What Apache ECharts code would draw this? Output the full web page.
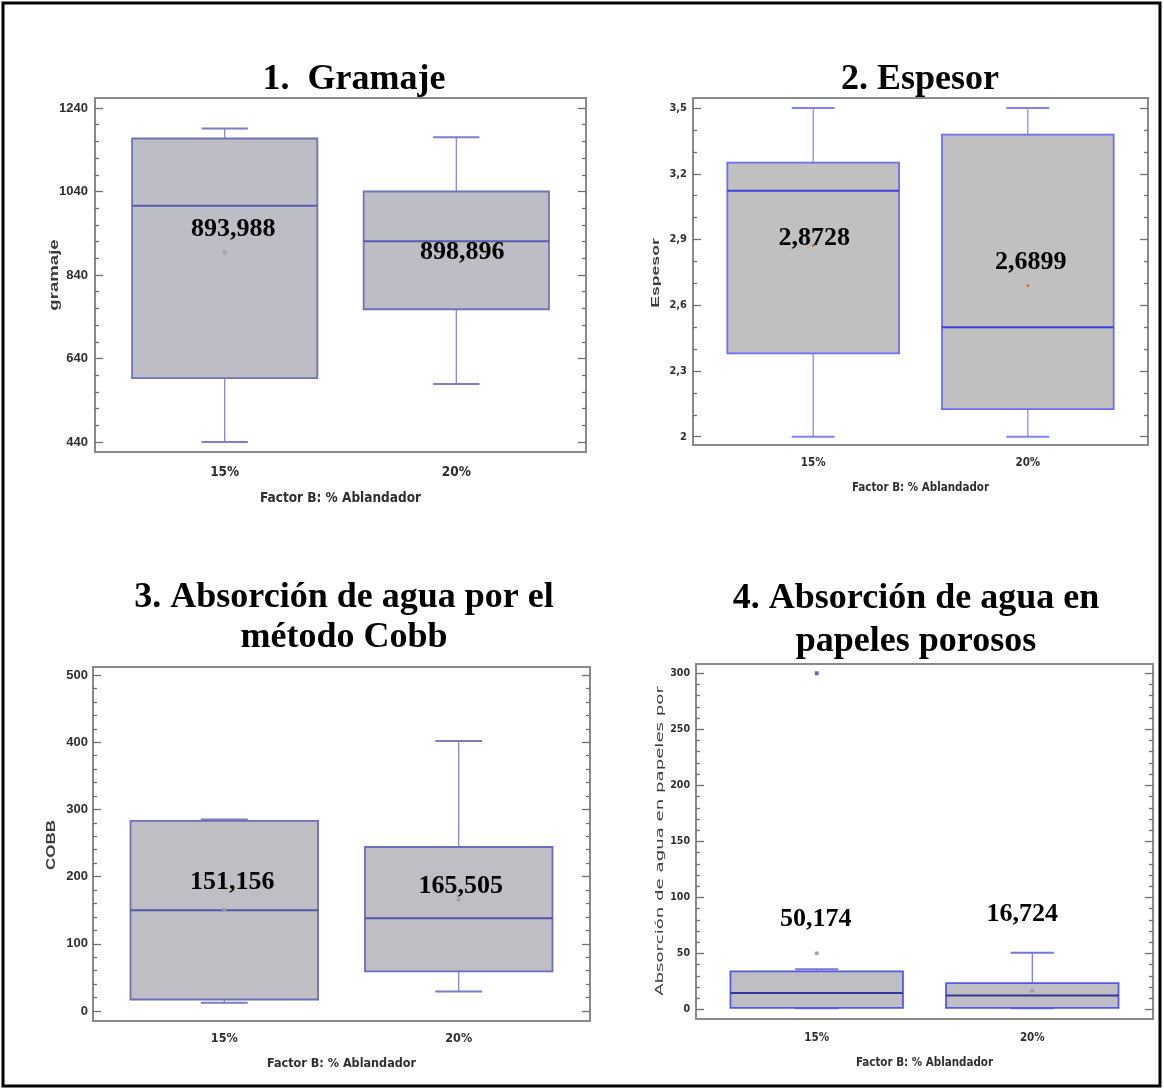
<!DOCTYPE html>
<html>
<head>
<meta charset="utf-8">
<title>Factor B: % Ablandador</title>
<script src="https://cdn.jsdelivr.net/npm/echarts@6/dist/echarts.min.js"></script>
<style>
  html, body { margin: 0; padding: 0; background: #fff; }
  #chart { width: 1164px; height: 1090px; }
</style>
</head>
<body>
<div id="chart"></div>
<script>
// Factor B levels (x categories)
const categories = ['15%', '20%'];

// Five-number summaries per level: [min, Q1, median, Q3, max]
const gramajeBoxes = [[440, 593, 1006, 1167, 1191], [579, 758, 921, 1040, 1170]];
const gramajeMeans = [893.988, 898.896];
const gramajeTicks = [440, 640, 840, 1040, 1240];

const espesorBoxes = [[2.0, 2.38, 3.123, 3.251, 3.5], [2.0, 2.126, 2.50, 3.379, 3.5]];
const espesorMeans = [2.8728, 2.6899];
const espesorTicks = [2.0, 2.3, 2.6, 2.9, 3.2, 3.5];

const cobbBoxes = [[12, 17, 150, 283, 285], [29, 59, 138, 244, 402]];
const cobbMeans = [151.156, 165.505];
const cobbTicks = [0, 100, 200, 300, 400, 500];

const porososBoxes = [[1, 1.5, 14.6, 34, 36], [1, 1.5, 12.5, 23.5, 50.7]];
const porososMeans = [50.174, 16.724];
const porososOutliers = [[300], []];
const porososTicks = [0, 50, 100, 150, 200, 250, 300];

const NARROW = "'Liberation Sans Narrow', 'Arial Narrow', 'DejaVu Sans Condensed', 'Liberation Sans', sans-serif";
const SANS = "'Liberation Sans', Arial, sans-serif";
const WIDE = "'DejaVu Sans', 'Liberation Sans', sans-serif";
const SERIF = "'Liberation Serif', 'Times New Roman', serif";

const comma = v => String(v).replace('.', ',');
const BOX_HALF = 0.4;   // half box width, x units
const CAP_HALF = 0.1;   // half whisker-cap width, x units

const panels = [
  {
    title: '1.  Gramaje', titleAt: [354, 80], titleLineHeight: 40,
    grid: { left: 95, top: 98, width: 491, height: 354 },
    yRange: [416, 1264], ticks: gramajeTicks, minorStep: 40,
    boxes: gramajeBoxes, means: gramajeMeans, outliers: [[], []],
    labelOffsets: [[8.5, -23], [6, 2]],
    yName: 'gramaje', yNameAt: [55, 275], yNameFont: { family: SANS, size: 12, weight: 'bold' }, yNameScale: 1.55,
    yLabel: { family: SANS, size: 13, weight: 'bold', margin: 7 },
    xLabel: { family: NARROW, size: 13.5, margin: 13 }, xName: { size: 13.5, gap: 39 },
    colors: { fill: '#bdbdc5', border: '#7272b6', median: '#5c5cae', whisker: '#7e7ec8', mean: '#a8a8a8', meanSize: 5 }
  },
  {
    title: '2. Espesor', titleAt: [920, 80], titleLineHeight: 40,
    grid: { left: 693, top: 98, width: 455, height: 347 },
    yRange: [1.962, 3.546], ticks: espesorTicks, minorStep: 0.1,
    boxes: espesorBoxes, means: espesorMeans, outliers: [[], []],
    labelOffsets: [[1, -7], [3, -23]],
    yName: 'Espesor', yNameAt: [656, 273], yNameFont: { family: SANS, size: 11, weight: 'bold' }, yNameScale: 1.6,
    yLabel: { family: NARROW, size: 11, weight: 'bold', margin: 6 },
    xLabel: { family: NARROW, size: 11.5, margin: 12 }, xName: { size: 11.5, gap: 37 },
    colors: { fill: '#c0c0c0', border: '#6c6cf6', median: '#3f3fe0', whisker: '#8080ff', mean: '#c8783c', meanSize: 3 }
  },
  {
    title: '3. Absorción de agua por el\nmétodo Cobb', titleAt: [344, 618], titleLineHeight: 40,
    grid: { left: 93, top: 667, width: 497, height: 354 },
    yRange: [-15, 512], ticks: cobbTicks, minorStep: 20,
    boxes: cobbBoxes, means: cobbMeans, outliers: [[], []],
    labelOffsets: [[8, -27], [2, -13]],
    yName: 'COBB', yNameAt: [51, 845], yNameFont: { family: SANS, size: 13, weight: 'bold' }, yNameScale: 1.3,
    yLabel: { family: SANS, size: 13, weight: 'bold', margin: 5 },
    xLabel: { family: NARROW, size: 12.5, margin: 11 }, xName: { size: 12.5, gap: 36 },
    colors: { fill: '#bebec4', border: '#6e6eb8', median: '#5656a8', whisker: '#7b7bc6', mean: '#a0a0a0', meanSize: 4 }
  },
  {
    title: '4. Absorción de agua en\npapeles porosos', titleAt: [916, 620], titleLineHeight: 43,
    grid: { left: 696, top: 664, width: 457, height: 355 },
    yRange: [-8.5, 308.3], ticks: porososTicks, minorStep: 10,
    boxes: porososBoxes, means: porososMeans, outliers: porososOutliers,
    labelOffsets: [[-1, -34], [-10, -76]],
    yName: 'Absorción de agua en papeles por', yNameAt: [660, 841], yNameFont: { family: WIDE, size: 11, weight: 'normal' }, yNameScale: 1.65,
    yLabel: { family: NARROW, size: 10.5, weight: 'bold', margin: 6 },
    xLabel: { family: NARROW, size: 11.5, margin: 13 }, xName: { size: 11.5, gap: 38 },
    colors: { fill: '#bfbfc3', border: '#5656e8', median: '#34349a', whisker: '#7474d8', mean: '#9a9ab0', meanSize: 4, outlier: '#6a6ab8' }
  }
];

// Minor tick positions between (and around) the labelled ticks
function minorValues(ticks, step, range) {
  const out = [];
  const start = ticks[0] - Math.floor((ticks[0] - range[0]) / step) * step;
  for (let v = start; v <= range[1] + 1e-9; v += step) {
    const r = Math.round(v * 1e6) / 1e6;
    if (!ticks.some(t => Math.abs(t - r) < 1e-6)) out.push(r);
  }
  return out;
}

// Box-and-whisker drawn through the axis scales
function boxRenderer(c) {
  return function (params, api) {
    const x = api.value(0);
    const ys = [1, 2, 3, 4, 5].map(d => api.coord([x, api.value(d)])[1]);
    const [lo, q1, med, q3, hi] = ys;
    const cx = api.coord([x, 0])[0];
    const left = api.coord([x - BOX_HALF, 0])[0];
    const right = api.coord([x + BOX_HALF, 0])[0];
    const capL = api.coord([x - CAP_HALF, 0])[0];
    const capR = api.coord([x + CAP_HALF, 0])[0];
    const w = { stroke: c.whisker, lineWidth: 1.2 };
    return {
      type: 'group',
      children: [
        { type: 'line', shape: { x1: cx, y1: hi, x2: cx, y2: q3 }, style: w },
        { type: 'line', shape: { x1: cx, y1: q1, x2: cx, y2: lo }, style: w },
        { type: 'line', shape: { x1: capL, y1: hi, x2: capR, y2: hi }, style: { stroke: c.whisker, lineWidth: 2 } },
        { type: 'line', shape: { x1: capL, y1: lo, x2: capR, y2: lo }, style: { stroke: c.whisker, lineWidth: 2 } },
        { type: 'rect', shape: { x: left, y: q3, width: right - left, height: q1 - q3 },
          style: { fill: c.fill, stroke: c.border, lineWidth: 1.8 } },
        { type: 'line', shape: { x1: left, y1: med, x2: right, y2: med }, style: { stroke: c.median, lineWidth: 2 } }
      ]
    };
  };
}

const option = { animation: false, grid: [], xAxis: [], yAxis: [], series: [], graphic: [] };
const tickLine = { color: '#707070', width: 1.3 };

panels.forEach((p, i) => {
  option.grid.push(Object.assign({ show: true, borderColor: '#8a8a8a', borderWidth: 2, backgroundColor: '#fff' }, p.grid));

  option.xAxis.push({
    gridIndex: i, type: 'value', min: 0.44, max: 2.56,
    axisLine: { show: false }, axisTick: { show: false }, splitLine: { show: false },
    axisLabel: {
      customValues: [1, 2], formatter: v => categories[Math.round(v) - 1],
      fontFamily: p.xLabel.family, fontSize: p.xLabel.size, fontWeight: 'bold', color: '#2e2e2e', margin: p.xLabel.margin
    },
    name: 'Factor B: % Ablandador', nameLocation: 'middle', nameGap: p.xName.gap,
    nameTextStyle: { fontFamily: NARROW, fontSize: p.xName.size, fontWeight: 'bold', color: '#2e2e2e' }
  });

  const minor = minorValues(p.ticks, p.minorStep, p.yRange);
  const base = { gridIndex: i, type: 'value', min: p.yRange[0], max: p.yRange[1], splitLine: { show: false }, axisLine: { show: false } };
  option.yAxis.push(Object.assign({}, base, {
    position: 'left',
    axisTick: { show: true, inside: true, length: 8, customValues: p.ticks, lineStyle: tickLine },
    axisLabel: {
      customValues: p.ticks, formatter: comma, fontFamily: p.yLabel.family, fontSize: p.yLabel.size,
      fontWeight: p.yLabel.weight, color: '#2e2e2e', margin: p.yLabel.margin
    }
  }));
  option.yAxis.push(Object.assign({}, base, {
    position: 'left', axisLabel: { show: false },
    axisTick: { show: true, inside: true, length: 4, customValues: minor, lineStyle: tickLine }
  }));
  option.yAxis.push(Object.assign({}, base, {
    position: 'right', axisLabel: { show: false },
    axisTick: { show: true, inside: true, length: 8, customValues: p.ticks, lineStyle: tickLine }
  }));
  option.yAxis.push(Object.assign({}, base, {
    position: 'right', axisLabel: { show: false },
    axisTick: { show: true, inside: true, length: 4, customValues: minor, lineStyle: tickLine }
  }));

  const yIdx = i * 4;
  option.series.push({
    type: 'custom', name: p.yName, xAxisIndex: i, yAxisIndex: yIdx,
    renderItem: boxRenderer(p.colors),
    encode: { x: 0, y: [1, 2, 3, 4, 5] },
    data: p.boxes.map((b, k) => [k + 1].concat(b)),
    z: 2
  });

  const outlierPts = [];
  p.outliers.forEach((arr, k) => arr.forEach(v => outlierPts.push([k + 1, v])));
  if (outlierPts.length) {
    option.series.push({
      type: 'scatter', xAxisIndex: i, yAxisIndex: yIdx, symbol: 'rect', symbolSize: 4,
      itemStyle: { color: p.colors.outlier, opacity: 1 }, data: outlierPts, z: 3
    });
  }

  option.series.push({
    type: 'scatter', xAxisIndex: i, yAxisIndex: yIdx, symbolSize: p.colors.meanSize,
    itemStyle: { color: p.colors.mean, opacity: 1 }, z: 4,
    label: {
      show: true, position: 'inside', formatter: q => comma(q.value[1]),
      fontFamily: SERIF, fontWeight: 'bold', fontSize: 26, color: '#000',
      textBorderWidth: 0, textBorderColor: 'transparent', textShadowBlur: 0
    },
    data: p.means.map((m, k) => ({ value: [k + 1, m], label: { offset: p.labelOffsets[k] } }))
  });

  option.graphic.push({
    type: 'text', x: p.titleAt[0], y: p.titleAt[1], z: 10,
    style: {
      text: p.title, fontFamily: SERIF, fontWeight: 'bold', fontSize: 36, lineHeight: p.titleLineHeight,
      fill: '#000', textAlign: 'center', textVerticalAlign: 'middle'
    }
  });
  option.graphic.push({
    type: 'text', x: p.yNameAt[0], y: p.yNameAt[1], rotation: Math.PI / 2, scaleX: p.yNameScale, z: 10,
    style: {
      text: p.yName, fontFamily: p.yNameFont.family, fontSize: p.yNameFont.size, fontWeight: p.yNameFont.weight,
      fill: '#3c3c3c', textAlign: 'center', textVerticalAlign: 'middle'
    }
  });
});

// Page frame
option.graphic.push({
  type: 'rect', z: 20, shape: { x: 3, y: 3, width: 1157, height: 1083 },
  style: { fill: 'none', stroke: '#000', lineWidth: 3 }
});

const chart = echarts.init(document.getElementById('chart'));
chart.setOption(option);
</script>
</body>
</html>
